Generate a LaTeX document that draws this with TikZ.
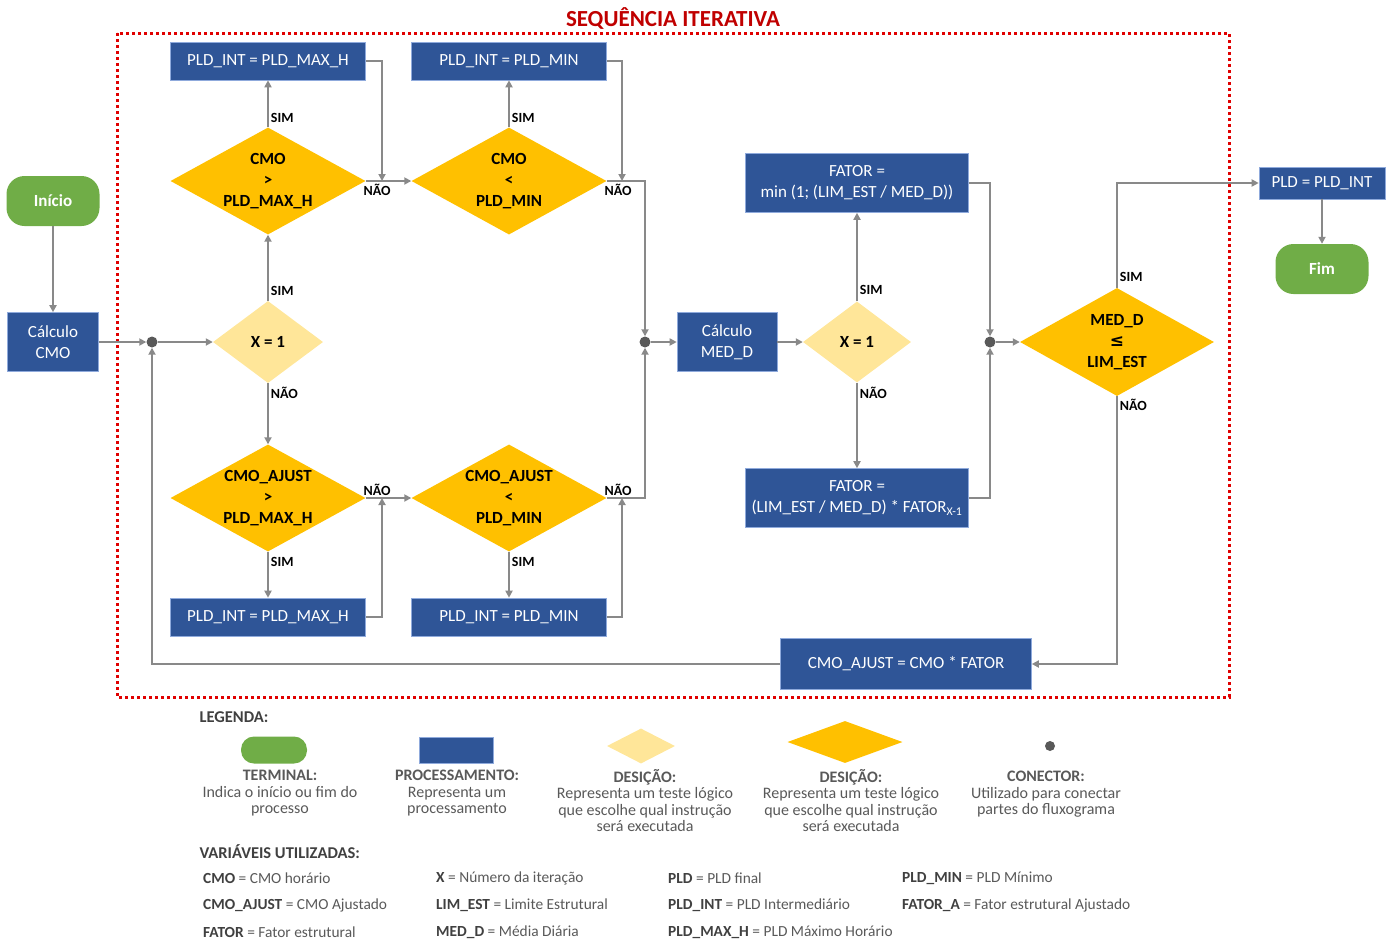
\documentclass[tikz,border=0pt]{standalone}
\usepackage{fontspec}
\setmainfont{Carlito}
\newfontfamily\symfont{DejaVu Sans}
\usetikzlibrary{shapes.geometric,arrows.meta,positioning}

\definecolor{procblue}{RGB}{47,85,151}
\definecolor{procedge}{RGB}{143,170,220}
\definecolor{termgreen}{RGB}{112,173,71}
\definecolor{decorange}{RGB}{255,192,0}
\definecolor{declight}{RGB}{255,230,153}
\definecolor{linegray}{RGB}{137,137,137}
\definecolor{dotgray}{RGB}{89,89,89}
\definecolor{seqred}{RGB}{192,0,0}
\definecolor{framered}{RGB}{224,0,0}
\definecolor{legtext}{RGB}{89,89,89}
\definecolor{vardark}{RGB}{64,64,64}

\newcommand{\varname}[1]{\textbf{\textcolor{vardark}{#1}}}

\begin{document}
\begin{tikzpicture}[
    x=1pt,
    y=-1pt,
    terminal/.style={
        rectangle,
        rounded corners=18pt,
        fill=termgreen,
        text=white,
        font=\bfseries\fontsize{17}{21}\selectfont,
        minimum width=93pt,
        minimum height=50pt
    },
    process/.style={
        rectangle,
        fill=procblue,
        draw=procedge,
        line width=0.6pt,
        text=white,
        align=center,
        inner sep=2pt,
        font=\fontsize{17}{21}\selectfont
    },
    decision/.style={
        diamond,
        fill=decorange,
        aspect=1.82,
        inner sep=-4pt,
        align=center,
        font=\bfseries\fontsize{17}{21}\selectfont
    },
    xtest/.style={
        diamond,
        fill=declight,
        aspect=1.34,
        inner sep=0pt,
        align=center,
        font=\bfseries\fontsize{17}{21}\selectfont
    },
    joint/.style={
        circle,
        fill=dotgray,
        minimum size=11pt,
        inner sep=0pt
    },
    arrow/.style={
        -{Triangle[width=7pt,length=7pt]},
        line width=1.8pt,
        draw=linegray
    },
    lbl/.style={
        font=\bfseries\fontsize{14}{16}\selectfont,
        inner sep=2pt
    },
    heading/.style={
        anchor=west,
        text=vardark,
        font=\bfseries\fontsize{16.5}{18}\selectfont
    },
    legtxt/.style={
        anchor=north,
        align=center,
        text=legtext,
        inner sep=0pt,
        font=\fontsize{16}{16.5}\selectfont
    },
    vartxt/.style={
        anchor=west,
        text=legtext,
        inner sep=0pt,
        font=\fontsize{15.4}{17}\selectfont
    }
]
\useasboundingbox (0,0) rectangle (1398,943);

% Title and frame
\node [font=\bfseries\fontsize{23}{26}\selectfont, text=seqred] (title) at (673,18) {SEQUÊNCIA ITERATIVA};
\draw [framered, line width=3pt, dash pattern=on 3pt off 3pt] (117,33) rectangle (1229,697);

% Start
\node [terminal] (ini) at (53,201) {Início};
\node [process, minimum width=91pt, minimum height=59pt] (ccmo) at (53,342) {Cálculo\\CMO};
\node [joint] (c1) at (152,342) {};
\node [xtest, minimum width=110pt, minimum height=82pt] (x1) at (268,342) {X = 1};

% Upper branch
\node [decision, minimum width=195pt, minimum height=107pt] (dmax) at (268,181) {CMO\\>\\PLD\_MAX\_H};
\node [process, minimum width=195pt, minimum height=38pt] (pmax) at (268,61) {PLD\_INT = PLD\_MAX\_H};
\node [decision, minimum width=195pt, minimum height=107pt] (dmin) at (509,181) {CMO\\<\\PLD\_MIN};
\node [process, minimum width=195pt, minimum height=38pt] (pmin) at (509,61) {PLD\_INT = PLD\_MIN};

% Lower branch
\node [decision, minimum width=195pt, minimum height=107pt] (dmaxa) at (268,498) {CMO\_AJUST\\>\\PLD\_MAX\_H};
\node [process, minimum width=195pt, minimum height=38pt] (pmaxa) at (268,617) {PLD\_INT = PLD\_MAX\_H};
\node [decision, minimum width=195pt, minimum height=107pt] (dmina) at (509,498) {CMO\_AJUST\\<\\PLD\_MIN};
\node [process, minimum width=195pt, minimum height=38pt] (pmina) at (509,617) {PLD\_INT = PLD\_MIN};

% Daily mean and factor
\node [joint] (c2) at (645,342) {};
\node [process, minimum width=100pt, minimum height=59pt] (cmed) at (727,342) {Cálculo\\MED\_D};
\node [xtest, minimum width=108pt, minimum height=81pt] (x2) at (857,342) {X = 1};
\node [process, minimum width=223pt, minimum height=59pt] (fmin) at (857,183) {FATOR =\\min (1; (LIM\_EST / MED\_D))};
\node [process, minimum width=223pt, minimum height=59pt] (fmul) at (857,498) {FATOR =\\(LIM\_EST / MED\_D) * FATOR\textsubscript{X-1}};
\node [joint] (c3) at (990,342) {};
\node [decision, minimum width=194pt, minimum height=108pt] (dmed) at (1117,342) {MED\_D\\{\symfont ≤}\\LIM\_EST};
\node [process, minimum width=251pt, minimum height=51pt] (cmoaj) at (906,664) {CMO\_AJUST = CMO * FATOR};

% End
\node [process, minimum width=126pt, minimum height=32pt] (pld) at (1322,183) {PLD = PLD\_INT};
\node [terminal] (fim) at (1322,269) {Fim};

% Junction points
\coordinate (j1) at (382,181);
\coordinate (j2) at (622,181);
\coordinate (j3) at (382,498);
\coordinate (j4) at (622,498);

% Connections
\draw [arrow] (ini) -- (ccmo);
\draw [arrow] (ccmo) -- (c1);
\draw [arrow] (c1) -- (x1);
\draw [arrow] (x1) -- node[lbl, pos=0.15, right] {SIM} (dmax);
\draw [arrow] (dmax) -- node[lbl, pos=0.2, right] {SIM} (pmax);
\draw [arrow] (dmax) -- node[lbl, pos=0.25, below] {NÃO} (dmin);
\draw [arrow] (pmax.east) -| (j1);
\draw [arrow] (dmin) -- node[lbl, pos=0.2, right] {SIM} (pmin);
\draw [arrow] (dmin.east) -| node[lbl, pos=0.15, below] {NÃO} (c2);
\draw [arrow] (pmin.east) -| (j2);

\draw [arrow] (x1) -- node[lbl, pos=0.16, right] {NÃO} (dmaxa);
\draw [arrow] (dmaxa) -- node[lbl, pos=0.22, right] {SIM} (pmaxa);
\draw [arrow] (dmaxa) -- node[lbl, pos=0.25, above] {NÃO} (dmina);
\draw [arrow] (pmaxa.east) -| (j3);
\draw [arrow] (dmina) -- node[lbl, pos=0.22, right] {SIM} (pmina);
\draw [arrow] (dmina.east) -| node[lbl, pos=0.15, above] {NÃO} (c2);
\draw [arrow] (pmina.east) -| (j4);

\draw [arrow] (c2) -- (cmed);
\draw [arrow] (cmed) -- (x2);
\draw [arrow] (x2) -- node[lbl, pos=0.13, right] {SIM} (fmin);
\draw [arrow] (x2) -- node[lbl, pos=0.12, right] {NÃO} (fmul);
\draw [arrow] (fmin.east) -| (c3);
\draw [arrow] (fmul.east) -| (c3);
\draw [arrow] (c3) -- (dmed);
\draw [arrow] (dmed.north) |- node[lbl, pos=0.05, right] {SIM} (pld.west);
\draw [arrow] (pld) -- (fim);
\draw [arrow] (dmed.south) |- node[lbl, pos=0, anchor=north west] {NÃO} (cmoaj.east);
\draw [arrow] (cmoaj.west) -| (c1);

% Legend
\node [heading] (legenda) at (196,717) {LEGENDA:};
\node [terminal, rounded corners=13pt, minimum width=66pt, minimum height=27pt] (legterm) at (274,750) {};
\node [process, minimum width=74pt, minimum height=26pt] (legproc) at (456,750) {};
\node [xtest, minimum width=68pt, minimum height=35pt] (legtest) at (641,746) {};
\node [decision, minimum width=115pt, minimum height=42pt] (legdec) at (845,742) {};
\node [joint, minimum size=10pt] (legjoint) at (1050,746) {};

\node [legtxt] (legtermtxt) at (280,770) {\textbf{TERMINAL:}\\Indica o início ou fim do\\processo};
\node [legtxt] (legproctxt) at (457,770) {\textbf{PROCESSAMENTO:}\\Representa um\\processamento};
\node [legtxt] (legtesttxt) at (645,769) {\textbf{DESIÇÃO:}\\Representa um teste lógico\\que escolhe qual instrução\\será executada};
\node [legtxt] (legdectxt) at (851,769) {\textbf{DESIÇÃO:}\\Representa um teste lógico\\que escolhe qual instrução\\será executada};
\node [legtxt] (legjointtxt) at (1046,771) {\textbf{CONECTOR:}\\Utilizado para conectar\\partes do fluxograma};

% Variables
\node [heading] (varhead) at (196,852) {VARIÁVEIS UTILIZADAS:};
\node [vartxt] (v1) at (203,878) {\varname{CMO} = CMO horário};
\node [vartxt] (v2) at (436,878) {\varname{X} = Número da iteração};
\node [vartxt] (v3) at (668,878) {\varname{PLD} = PLD final};
\node [vartxt] (v4) at (902,878) {\varname{PLD\_MIN} = PLD Mínimo};
\node [vartxt] (v5) at (203,905) {\varname{CMO\_AJUST} = CMO Ajustado};
\node [vartxt] (v6) at (436,905) {\varname{LIM\_EST} = Limite Estrutural};
\node [vartxt] (v7) at (668,905) {\varname{PLD\_INT} = PLD Intermediário};
\node [vartxt] (v8) at (902,905) {\varname{FATOR\_A} = Fator estrutural Ajustado};
\node [vartxt] (v9) at (203,932) {\varname{FATOR} = Fator estrutural};
\node [vartxt] (v10) at (436,932) {\varname{MED\_D} = Média Diária};
\node [vartxt] (v11) at (668,932) {\varname{PLD\_MAX\_H} = PLD Máximo Horário};

\end{tikzpicture}
\end{document}
